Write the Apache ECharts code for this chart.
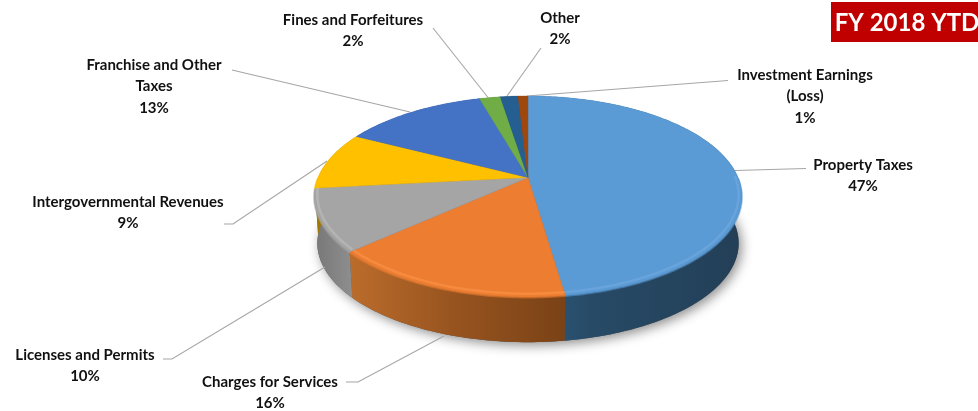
<!DOCTYPE html>
<html><head><meta charset="utf-8">
<style>html,body{margin:0;padding:0;background:#fff}#c{width:978px;height:411px}</style>
<script src="https://cdn.jsdelivr.net/npm/echarts@6/dist/echarts.min.js"></script>
</head><body><div id="c"></div>
<script>
const categories=['Property Taxes','Charges for Services','Licenses and Permits','Intergovernmental Revenues','Franchise and Other Taxes','Fines and Forfeitures','Other','Investment Earnings (Loss)'];
const values=[47.7,15.6,10.0,9.3,13.0,1.9,1.6,0.9];
const percentLabels=['47%','16%','10%','9%','13%','2%','2%','1%'];
const labelLines=[['Property Taxes'],['Charges for Services'],['Licenses and Permits'],['Intergovernmental Revenues'],['Franchise and Other','Taxes'],['Fines and Forfeitures'],['Other'],['Investment Earnings','(Loss)']];
const badgeText='FY 2018 YTD';

// styling and layout, separate from the data
const topColors=['#5b9bd5','#ed7d31','#a5a5a5','#ffc000','#4472c4','#70ad47','#255e91','#9e480e'];
const rimColors=['#6ba6dc','#f78e45','#b8b8b8','#ffc000','#4472c4','#70ad47','#255e91','#9e480e'];
const sideStops=[
 [[0,'#2e5a80'],[0.3,'#274a66'],[1,'#233f57']],
 [[0,'#bb6c2b'],[0.5,'#96531f'],[1,'#7a4216']],
 [[0,'#777777'],[1,'#8e8e8e']],
 [[0,'#a07800'],[1,'#a07800']],[[0,'#2a4a80'],[1,'#2a4a80']],[[0,'#46702c'],[1,'#46702c']],[[0,'#183c5c'],[1,'#183c5c']],[[0,'#662e08'],[1,'#662e08']]];
const labelCenters=[[863,165],[270,382],[85,355],[128,202],[154,65],[353,20],[560,18],[805,75]];
const leaders=[
 [[735,170.5],[806,168.5]],
 [[444,336],[358,382],[346,382]],
 [[325,267],[172,359],[163,359]],
 [[327,161],[233,224],[224,224]],
 [[410,112],[232,70]],
 [[488,97.5],[433,28]],
 [[507,96],[541,48]],
 [[527,96],[728,80.5]]];
const CX=528,CY=177.5,R=210,RY=96.9,K=0.189,DEPTH=47,BOTTOM=0.985,LINE=21.5;
const FONT='bold 15px Lato';

function project(deg,scale,dy){
  const a=deg*Math.PI/180,u=Math.sin(a),v=-Math.cos(a),s=scale/(1-K*v);
  return [CX+R*u*s,CY+RY*v*s+dy];
}
function arc(a0,a1,scale,dy){
  const pts=[],n=Math.max(2,Math.ceil(Math.abs(a1-a0)));
  for(let i=0;i<=n;i++)pts.push(project(a0+(a1-a0)*i/n,scale,dy));
  return pts;
}
const total=values.reduce((a,b)=>a+b,0);
function angles(i){
  let s=0;for(let j=0;j<i;j++)s+=values[j];
  return [s/total*360,(s+values[i])/total*360];
}
const seriesData=values.map((v,i)=>[i,v]);

function renderBase(){
  return {type:'polygon',shape:{points:arc(0,360,BOTTOM,DEPTH)},
    style:{fill:'#555',shadowBlur:12,shadowColor:'rgba(0,0,0,0.45)',shadowOffsetX:3,shadowOffsetY:3}};
}
function renderSide(p,api){
  const i=api.value(0),[a0,a1]=angles(i);
  const top=arc(a0,a1,1,0),bottom=arc(a0,a1,BOTTOM,DEPTH).reverse();
  const xs=top.concat(bottom).map(q=>q[0]);
  const stops=sideStops[i].map(s=>({offset:s[0],color:s[1]}));
  const x0=Math.min(...xs),x1=Math.max(...xs);
  return {type:'polygon',shape:{points:top.concat(bottom)},
    style:{fill:new echarts.graphic.LinearGradient(x0,0,x1,0,stops,true),stroke:null}};
}
function renderTop(p,api){
  const i=api.value(0),[a0,a1]=angles(i),children=[];
  children.push({type:'polygon',shape:{points:[[CX,CY]].concat(arc(a0,a1,1,0))},
    style:{fill:topColors[i],stroke:topColors[i],lineWidth:0.4}});
  // the soft bevel along the front rim
  const f0=Math.max(a0,90),f1=Math.min(a1,270);
  if(f1>f0){
    children.push({type:'polyline',shape:{points:arc(f0,f1,0.985,-1.5)},
      style:{fill:null,stroke:rimColors[i],lineWidth:2.5,opacity:0.8}});
    children.push({type:'polyline',shape:{points:arc(f0,f1,1,0.5)},
      style:{fill:null,stroke:topColors[i],lineWidth:2,opacity:0.55}});
  }
  return {type:'group',children};
}
function renderLabel(p,api){
  const i=api.value(0),c=labelCenters[i],children=[];
  children.push({type:'polyline',shape:{points:leaders[i]},style:{fill:null,stroke:'#a6a6a6',lineWidth:1.1}});
  labelLines[i].concat(percentLabels[i]).forEach((t,n)=>{
    children.push({type:'text',style:{text:t,x:c[0],y:c[1]+n*LINE,align:'center',verticalAlign:'middle',font:FONT,fill:'#111111'}});
  });
  return {type:'group',children};
}
function renderBadge(){
  return {type:'group',children:[
    {type:'rect',shape:{x:831,y:2,width:147,height:40},style:{fill:'#c00000'}},
    {type:'text',style:{text:badgeText,x:907,y:23,align:'center',verticalAlign:'middle',font:'bold 24px Lato',fill:'#ffffff'}}
  ]};
}
const chart=echarts.init(document.getElementById('c'),null,{renderer:'canvas'});
chart.setOption({
  animation:false,backgroundColor:'#ffffff',
  series:[
    {type:'custom',coordinateSystem:'none',silent:true,data:[[total]],renderItem:renderBase,z:1},
    {type:'custom',coordinateSystem:'none',silent:true,data:seriesData,renderItem:renderSide,z:2},
    {type:'custom',coordinateSystem:'none',silent:true,data:seriesData,renderItem:renderLabel,z:3},
    {type:'custom',coordinateSystem:'none',silent:true,data:seriesData,renderItem:renderTop,z:4},
    {type:'custom',coordinateSystem:'none',silent:true,data:[[total]],renderItem:renderBadge,z:5}
  ]
});
</script></body></html>
